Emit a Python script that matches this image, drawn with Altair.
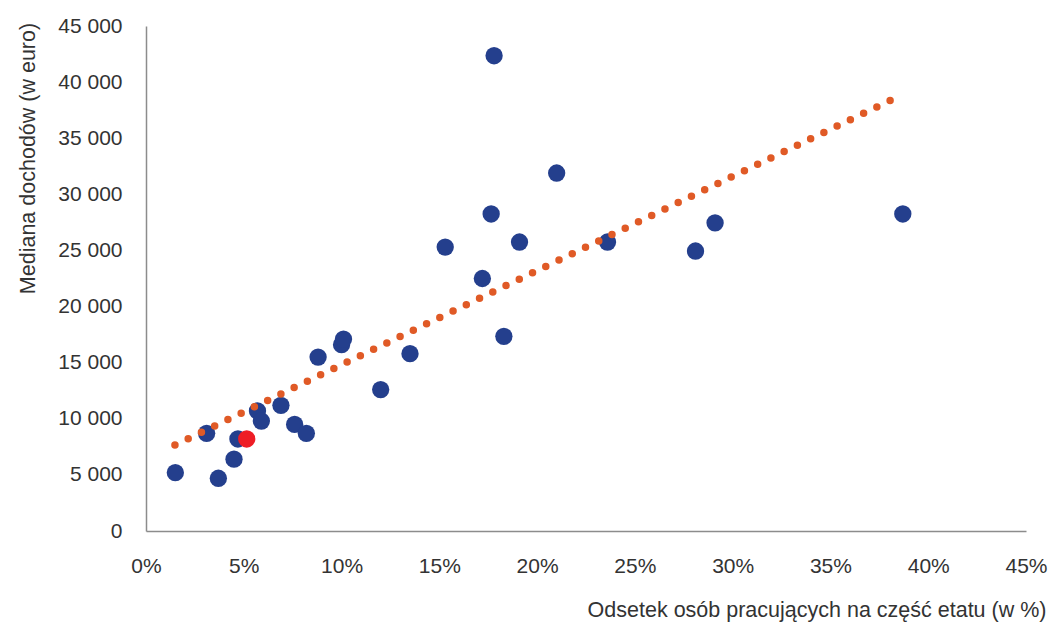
import altair as alt
import pandas as pd

# Part-time share (%) and median income (EUR)
part_time = [1.5, 3.1, 3.7, 4.5, 4.7, 5.7, 5.9, 6.9, 7.6, 8.2, 8.8, 10.0, 10.1,
             12.0, 13.5, 15.3, 17.2, 17.65, 17.8, 18.3, 19.1, 21.0, 23.6, 28.1,
             29.1, 38.7]
median_income = [5200, 8700, 4700, 6400, 8200, 10700, 9800, 11200, 9500, 8700,
                 15500, 16600, 17100, 12600, 15800, 25300, 22500, 28250, 42350,
                 17350, 25750, 31900, 25750, 24950, 27450, 28250]

# Highlighted country
hl_part_time = [5.15]
hl_income = [8200]

# Linear trend line end points
trend_x = [1.48, 38.15]
trend_y = [7660, 38440]

df = pd.DataFrame({"x": part_time, "y": median_income})
dh = pd.DataFrame({"x": hl_part_time, "y": hl_income})
dt = pd.DataFrame({"x": trend_x, "y": trend_y})

FONT = "Liberation Sans"

xs = alt.Scale(domain=[0, 45], nice=False)
ys = alt.Scale(domain=[0, 45000], nice=False)

x_axis = alt.Axis(
    values=[0, 5, 10, 15, 20, 25, 30, 35, 40, 45],
    labelExpr="datum.value + '%'",
    title="Odsetek osób pracujących na część etatu (w %)",
    titleAnchor="end", titleAlign="right", titleX=900, titleY=79,
    titleBaseline="middle",
    grid=False, ticks=False, tickSize=0, labelPadding=24,
    domainColor="#8c8c8c", domainWidth=1.5,
    labelFontSize=21, titleFontSize=21.5, labelFont=FONT, titleFont=FONT,
    labelColor="#333333", titleColor="#333333", titleFontWeight="normal",
    labelFlush=False,
)
y_axis = alt.Axis(
    values=[0, 5000, 10000, 15000, 20000, 25000, 30000, 35000, 40000, 45000],
    labelExpr="replace(format(datum.value, ','), /,/g, ' ')",
    title="Mediana dochodów (w euro)",
    titleAngle=270, titleX=-118, titleY=132, titleAlign="center",
    titleBaseline="middle",
    grid=False, ticks=False, tickSize=0, labelPadding=24,
    domainColor="#8c8c8c", domainWidth=1.5,
    labelFontSize=21, titleFontSize=21.5, labelFont=FONT, titleFont=FONT,
    labelColor="#333333", titleColor="#333333", titleFontWeight="normal",
    labelFlush=False,
)

points = alt.Chart(df).mark_circle(size=300, color="#243F8D", opacity=1).encode(
    x=alt.X("x:Q", scale=xs, axis=x_axis),
    y=alt.Y("y:Q", scale=ys, axis=y_axis),
)
highlight = alt.Chart(dh).mark_circle(size=300, color="#EE1D25", opacity=1).encode(
    x=alt.X("x:Q", scale=xs),
    y=alt.Y("y:Q", scale=ys),
)
trend = alt.Chart(dt).mark_line(
    color="#E05A26", strokeWidth=7.5, strokeCap="round", strokeDash=[0, 14.7]
).encode(
    x=alt.X("x:Q", scale=xs),
    y=alt.Y("y:Q", scale=ys),
)

chart = alt.layer(points, highlight, trend).properties(
    width=880, height=505,
    autosize=alt.AutoSizeParams(type="none"),
    padding={"left": 138, "top": 18, "right": 22, "bottom": 91},
).configure(background="white").configure_view(stroke=None, strokeWidth=0)

chart.save("out.html", embed_options={"renderer": "svg", "actions": False})
